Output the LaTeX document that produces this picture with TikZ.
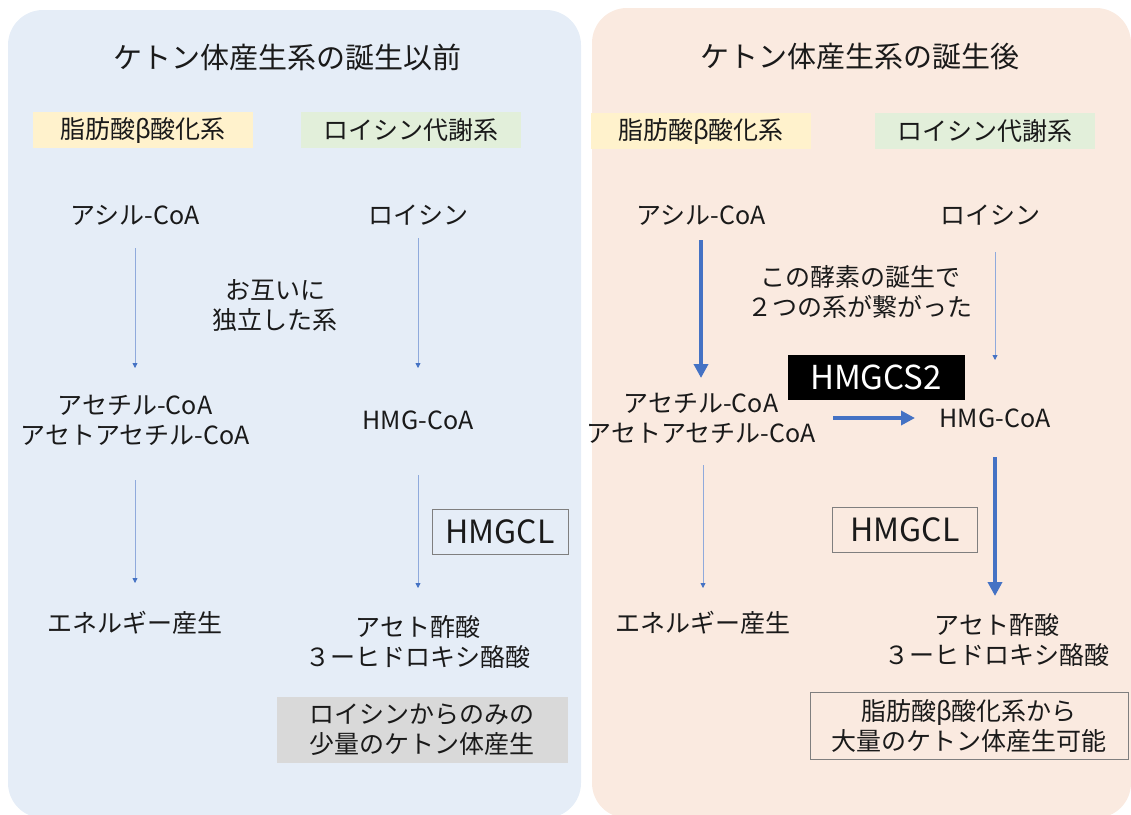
\documentclass[tikz,border=0pt]{standalone}
\usepackage{fontspec}
\setmainfont{Noto Sans CJK JP}
\usetikzlibrary{arrows.meta}
\definecolor{leftbg}{HTML}{E5EDF7}
\definecolor{rightbg}{HTML}{FAEAE0}
\definecolor{yel}{HTML}{FFF2CC}
\definecolor{grn}{HTML}{E2EFDA}
\definecolor{gry}{HTML}{D9D9D9}
\definecolor{arrblue}{HTML}{4472C4}
\definecolor{thinblue}{HTML}{8FAADC}
\definecolor{boxline}{HTML}{7F7F7F}
\definecolor{txt}{HTML}{1A1A1A}
\begin{document}
\begin{tikzpicture}[x=1pt,y=-1pt,
  lbl/.style={font=\fontsize{25}{30}\selectfont, align=center, inner sep=0pt, text=txt},
  ttl/.style={font=\fontsize{29}{34}\selectfont, inner sep=0pt, text=txt},
  sysbox/.style={minimum width=220pt, minimum height=36pt, inner sep=0pt, text=txt, font=\fontsize{25}{28}\selectfont},
  enz/.style={draw=boxline, line width=1pt, font=\fontsize{32}{34}\selectfont, inner sep=0pt, text=txt},
  thinarr/.style={draw=thinblue, line width=0.8pt, -{Triangle[length=5pt,width=5pt,color=arrblue]}},
  thickarr/.style={draw=arrblue, line width=4pt, -{Triangle[length=14pt,width=14pt]}}]
\useasboundingbox (0,0) rectangle (1131,814);
\clip (0,0) rectangle (1131,814);
% panels
\path[fill=leftbg, rounded corners=35pt] (8,10) rectangle (581,818);
\path[fill=rightbg, rounded corners=35pt] (592,8) rectangle (1131,818);
% ---- left panel ----
\node[ttl] (lt) at (287,57) {ケトン体産生系の誕生以前};
\node[sysbox, fill=yel] (lf) at (143,130) {脂肪酸β酸化系};
\node[sysbox, fill=grn] (ll) at (411,130) {ロイシン代謝系};
\node[lbl] (la) at (135,215) {アシル-CoA};
\node[lbl] (lb) at (418,215) {ロイシン};
\node[lbl] (lc) at (275,306) {お互いに\\独立した系};
\node[lbl] (ld) at (135,420) {アセチル-CoA\\アセトアセチル-CoA};
\node[lbl] (le) at (418,420) {HMG-CoA};
\node[enz, minimum width=136pt, minimum height=45pt] (lg) at (500,532) {HMGCL};
\node[lbl] (lh) at (135,623) {エネルギー産生};
\node[lbl] (li) at (418,642) {アセト酢酸\\３ーヒドロキシ酪酸};
\node[lbl, fill=gry, minimum width=291pt, minimum height=66pt] (lj) at (422,730) {ロイシンからのみの\\少量のケトン体産生};
\draw[thinarr, shorten <=33pt, shorten >=52pt] (la.center) -- (ld.center);
\draw[thinarr, shorten <=23pt, shorten >=52pt] (lb.center) -- (le.center);
\draw[thinarr, shorten <=60pt, shorten >=40pt] (ld.center) -- (lh.center);
\draw[thinarr, shorten <=55pt, shorten >=54pt] (le.center) -- (li.center);
% ---- right panel ----
\node[ttl] (rt) at (860,57) {ケトン体産生系の誕生後};
\node[sysbox, fill=yel] (rf) at (701,131) {脂肪酸β酸化系};
\node[sysbox, fill=grn] (rl) at (985,131) {ロイシン代謝系};
\node[lbl] (ra) at (701,215) {アシル-CoA};
\node[lbl] (rb) at (990,215) {ロイシン};
\node[lbl] (rc) at (860,292) {この酵素の誕生で\\２つの系が繋がった};
\node[fill=black, text=white, font=\fontsize{33}{34}\selectfont, inner sep=0pt, minimum width=177pt, minimum height=45pt] (rs) at (876,377) {HMGCS2};
\node[lbl] (rd) at (701,418) {アセチル-CoA\\アセトアセチル-CoA};
\node[lbl] (re) at (995,418) {HMG-CoA};
\node[enz, minimum width=145pt, minimum height=45pt] (rg) at (905,530) {HMGCL};
\node[lbl] (rh) at (703,623) {エネルギー産生};
\node[lbl] (ri) at (997,640) {アセト酢酸\\３ーヒドロキシ酪酸};
\node[lbl, draw=boxline, line width=1pt, minimum width=318pt, minimum height=67pt] (rj) at (969,726) {脂肪酸β酸化系から\\大量のケトン体産生可能};
\draw[thickarr, shorten <=25pt, shorten >=40pt] (ra.center) -- (rd.center);
\draw[thinarr, shorten <=37pt, shorten >=58pt] (re.center |- rb.center) -- (re.center);
\draw[thickarr, shorten <=132pt, shorten >=80pt] (rd.center) -- (re.center);
\draw[thinarr, shorten <=47pt, shorten >=35pt] (rh.center |- rd.center) -- (rh.center);
\draw[thickarr, shorten <=39pt, shorten >=44pt] (re.center) -- (re.center |- ri.center);
\end{tikzpicture}
\end{document}
